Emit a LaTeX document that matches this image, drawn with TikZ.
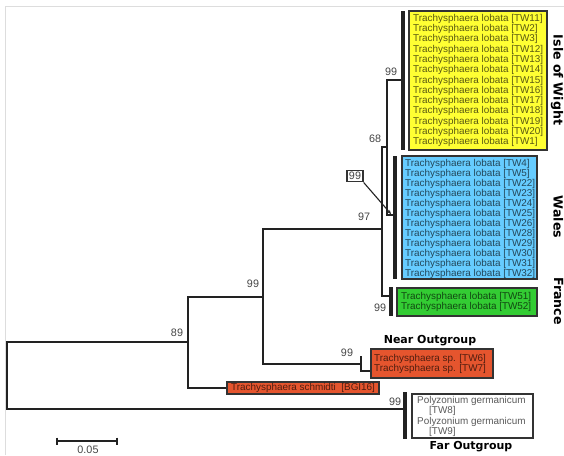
\documentclass[tikz,border=0pt]{standalone}
\usepackage{fontspec}
\setmainfont{Liberation Sans}
\newfontfamily\dvs{DejaVu Sans}
\usetikzlibrary{arrows.meta}
\definecolor{ycol}{HTML}{FFFF33}
\definecolor{bcol}{HTML}{66CCFF}
\definecolor{gcol}{HTML}{33CC33}
\definecolor{rcol}{HTML}{E5552E}
\definecolor{treec}{HTML}{222222}
\definecolor{boxc}{HTML}{333333}
\definecolor{labc}{HTML}{444444}
\definecolor{framec}{HTML}{DDDDDD}
\begin{document}
\begin{tikzpicture}[x=1pt,y=-1pt,
  tree/.style={line width=2.7pt, draw=treec},
  cladebar/.style={line width=3.4pt, draw=treec},
  cbox/.style={draw=boxc, line width=2.1pt, anchor=north west, inner sep=0pt},
  ctext/.style={anchor=west, align=left, inner sep=0pt, font=\fontsize{9.9}{10.1}\selectfont, text=black, text opacity=0.65},
  blab/.style={font=\fontsize{10.8}{12}\selectfont, text=labc, inner sep=0pt},
  reg/.style={font=\dvs\bfseries\fontsize{12.6}{14}\selectfont, rotate=-90, anchor=base, text=black, inner sep=0pt},
  grp/.style={font=\dvs\bfseries\fontsize{11}{13}\selectfont, anchor=base, text=black, inner sep=0pt}]
\useasboundingbox (0,0) rectangle (564,455);
\draw[framec, line width=1pt] (5,455) -- (5,6) -- (564,6);

% ---- boxes ----
\node[cbox, fill=ycol, minimum width=138pt, minimum height=139pt] (iowbox) at (408,10) {};
\node[ctext, font=\fontsize{9.9}{10.28}\selectfont] (iowtxt) at ([xshift=5pt]iowbox.west) {Trachysphaera lobata [TW11]\\Trachysphaera lobata [TW2]\\Trachysphaera lobata [TW3]\\Trachysphaera lobata [TW12]\\Trachysphaera lobata [TW13]\\Trachysphaera lobata [TW14]\\Trachysphaera lobata [TW15]\\Trachysphaera lobata [TW16]\\Trachysphaera lobata [TW17]\\Trachysphaera lobata [TW18]\\Trachysphaera lobata [TW19]\\Trachysphaera lobata [TW20]\\Trachysphaera lobata [TW1]};

\node[cbox, fill=bcol, minimum width=135pt, minimum height=123pt] (walbox) at (401,155) {};
\node[ctext, font=\fontsize{9.9}{10}\selectfont] (waltxt) at ([xshift=4pt,yshift=-1.5pt]walbox.west) {Trachysphaera lobata [TW4]\\Trachysphaera lobata [TW5]\\Trachysphaera lobata [TW22]\\Trachysphaera lobata [TW23]\\Trachysphaera lobata [TW24]\\Trachysphaera lobata [TW25]\\Trachysphaera lobata [TW26]\\Trachysphaera lobata [TW28]\\Trachysphaera lobata [TW29]\\Trachysphaera lobata [TW30]\\Trachysphaera lobata [TW31]\\Trachysphaera lobata [TW32]};

\node[cbox, fill=gcol, minimum width=140pt, minimum height=28pt] (frbox) at (396,287) {};
\node[ctext, font=\fontsize{9.9}{10}\selectfont] (frtxt) at ([xshift=5pt]frbox.west) {Trachysphaera lobata [TW51]\\Trachysphaera lobata [TW52]};

\node[cbox, fill=rcol, minimum width=122pt, minimum height=29pt] (nearbox) at (370,348) {};
\node[ctext, font=\fontsize{9.9}{10}\selectfont] (neartxt) at ([xshift=4pt]nearbox.west) {Trachysphaera sp. [TW6]\\Trachysphaera sp. [TW7]};

\node[cbox, fill=rcol, minimum width=152pt, minimum height=12pt] (schbox) at (226,381) {};
\node[ctext] (schtxt) at ([xshift=5pt]schbox.west) {Trachysphaera schmidti\ \ [BGI16]};

\node[cbox, fill=white, minimum width=121pt, minimum height=44pt] (farbox) at (411,393) {};
\node[ctext, font=\fontsize{9.9}{10.3}\selectfont] (fartxt) at ([xshift=6pt,yshift=-0.5pt]farbox.west) {Polyzonium germanicum\\\hspace*{12pt}[TW8]\\Polyzonium germanicum\\\hspace*{12pt}[TW9]};

% ---- tree ----
\coordinate (root) at (7,376);
\coordinate (n89) at (188,342);
\coordinate (n99a) at (263,297);
\coordinate (n97) at (382,229);
\coordinate (n68) at (387,147);
\coordinate (iowj) at (403,80);
\coordinate (walj) at (395,215);
\coordinate (frj) at (391,296);
\coordinate (nearn) at (361,364);
\coordinate (tw6) at (361,356);
\coordinate (tw7) at (370,371);
\coordinate (farj) at (405,409);

\draw[tree] (root) |- (n89);
\draw[tree] (root) |- (farj);
\draw[tree] (n89) |- (n99a);
\draw[tree] (n89) |- (schbox.west);
\draw[tree] (n99a) |- (n97);
\draw[tree] (n99a) |- (nearn);
\draw[tree] (n97) |- (n68);
\draw[tree] (n97) |- (frj);
\draw[tree] (n68) |- (iowj);
\draw[tree] (n68) |- (walj);
\draw[tree] (tw6) |- (tw7);

% clade bars
\coordinate (iowb1) at (403,11); \coordinate (iowb2) at (403,150);
\coordinate (walb1) at (395,156); \coordinate (walb2) at (395,279);
\coordinate (frb1) at (391,287); \coordinate (frb2) at (391,316);
\coordinate (farb1) at (405,392); \coordinate (farb2) at (405,439);
\draw[cladebar] (iowb1) -- (iowb2);
\draw[cladebar] (walb1) -- (walb2);
\draw[cladebar] (frb1) -- (frb2);
\draw[cladebar] (farb1) -- (farb2);

% ---- support values ----
\node[blab] (l89) at (177,333) {89};
\node[blab] (l99a) at (253,284) {99};
\node[blab] (l97) at (364,217) {97};
\node[blab] (l68) at (375,139) {68};
\node[blab] (l99iow) at (391,72) {99};
\node[blab] (l99fr) at (380,308) {99};
\node[blab] (l99near) at (347,353) {99};
\node[blab] (l99far) at (395,402) {99};
\node[blab, draw=boxc, line width=1.3pt, fill=white, inner xsep=2pt, inner ysep=2pt] (l99wal) at (355,176) {99};
\coordinate (waltip) at (391,214);
\draw[line width=1.1pt, draw=treec, -{Stealth[length=4pt,width=3.5pt]}] (l99wal.south east) -- (waltip);

% ---- group labels ----
\node[reg] (riow) at (553.5,80) {Isle of Wight};
\node[reg] (rwal) at (553.5,217) {Wales};
\node[reg] (rfr) at (554,301) {France};
\node[grp] (gnear) at (430,343) {Near Outgroup};
\node[grp] (gfar) at (471,449.5) {Far Outgroup};

% ---- scale bar ----
\coordinate (sb1) at (57,441);
\coordinate (sb2) at (117,441);
\draw[line width=2.3pt, draw=treec] (sb1) -- (sb2);
\draw[line width=2.3pt, draw=treec] ([yshift=3.5pt]sb1) -- ([yshift=-3.5pt]sb1);
\draw[line width=2.3pt, draw=treec] ([yshift=3.5pt]sb2) -- ([yshift=-3.5pt]sb2);
\node[blab] (sblab) at (88,450) {0.05};
\end{tikzpicture}
\end{document}
